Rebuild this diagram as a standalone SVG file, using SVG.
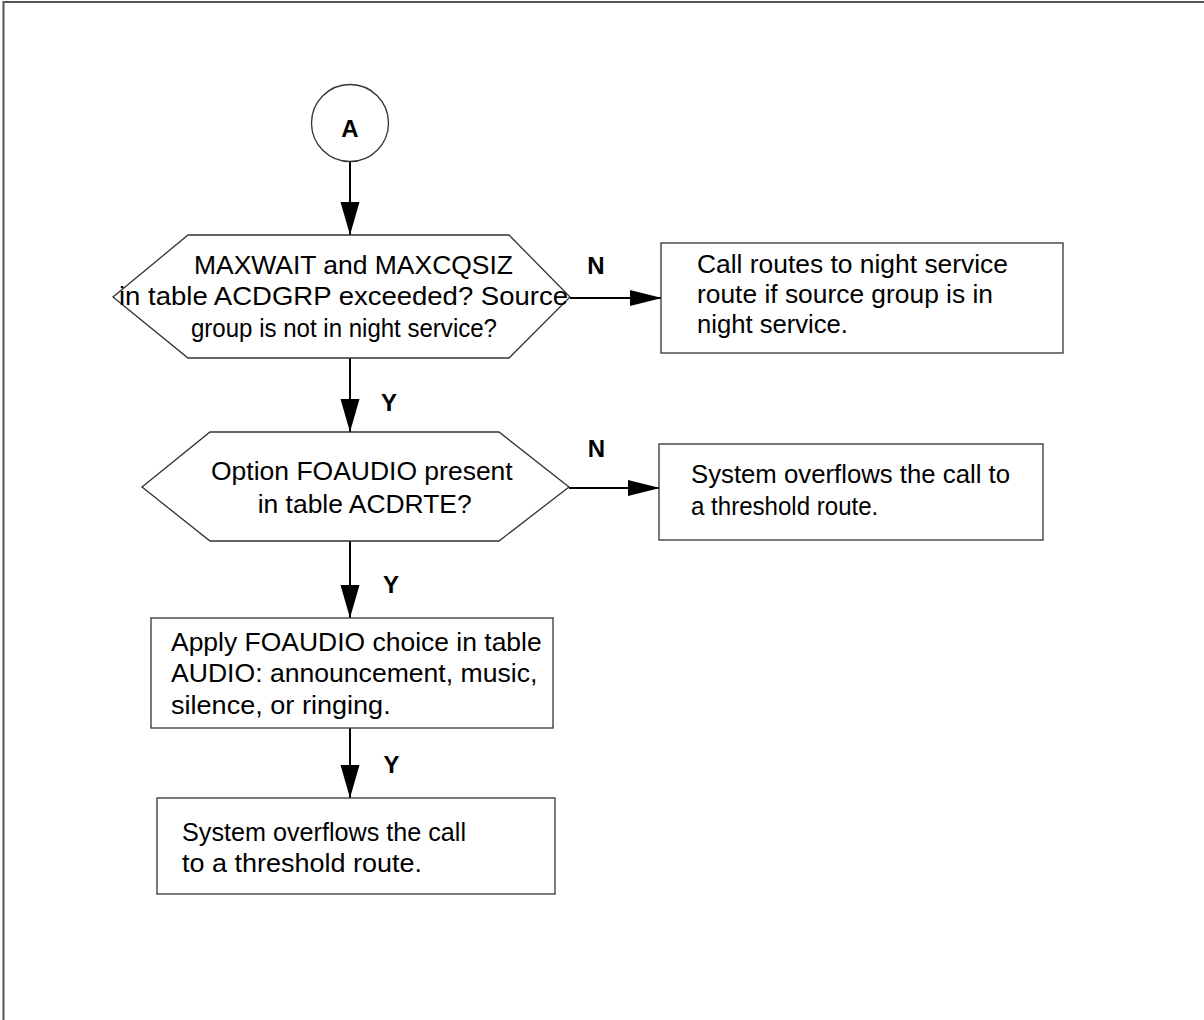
<svg xmlns="http://www.w3.org/2000/svg" width="1204" height="1020" viewBox="0 0 1204 1020">
<style>
  .shape { fill: #ffffff; stroke: #333333; stroke-width: 1.3; }
  .conn { stroke: #000000; stroke-width: 2; fill: none; }
  .txt { font-family: "Liberation Sans", Arial, sans-serif; font-size: 25px; fill: #000000; }
  .lbl { font-family: "Liberation Sans", Arial, sans-serif; font-size: 24px; font-weight: bold; fill: #000000; text-anchor: middle; }
  .frame { stroke: #555555; stroke-width: 2; fill: none; }
</style>
<defs>
  <marker id="arrV" markerUnits="userSpaceOnUse" markerWidth="33" markerHeight="20" refX="33" refY="9.5" orient="auto">
    <path d="M0,0 L33,9.5 L0,19 Z" fill="#000000"/>
  </marker>
  <marker id="arrH" markerUnits="userSpaceOnUse" markerWidth="32" markerHeight="18" refX="32" refY="8" orient="auto">
    <path d="M0,0 L32,8 L0,16 Z" fill="#000000"/>
  </marker>
</defs>
<rect x="0" y="0" width="1204" height="1020" fill="#ffffff"/>
<path class="frame" d="M3.5,1020 L3.5,2 L1204,2"/>

<g id="connectors">
  <line class="conn" x1="350" y1="162" x2="350" y2="235" marker-end="url(#arrV)"/>
  <line class="conn" x1="570" y1="298" x2="662" y2="298" marker-end="url(#arrH)"/>
  <line class="conn" x1="350" y1="358" x2="350" y2="432" marker-end="url(#arrV)"/>
  <line class="conn" x1="569" y1="488" x2="660" y2="488" marker-end="url(#arrH)"/>
  <line class="conn" x1="350" y1="541" x2="350" y2="618" marker-end="url(#arrV)"/>
  <line class="conn" x1="350" y1="728" x2="350" y2="798" marker-end="url(#arrV)"/>
  <text class="lbl" x="596" y="274">N</text>
  <text class="lbl" x="389" y="411">Y</text>
  <text class="lbl" x="596.5" y="457">N</text>
  <text class="lbl" x="391" y="593">Y</text>
  <text class="lbl" x="391.5" y="773">Y</text>
</g>

<g id="nodeA">
  <circle class="shape" cx="350" cy="123" r="38.5"/>
  <text class="lbl" x="350" y="137" font-size="27">A</text>
</g>

<g id="decision1">
  <polygon class="shape" points="188,235 509,235 570,297 509,358 188,358 113,297"/>
  <text class="txt" x="194" y="274" textLength="319" lengthAdjust="spacingAndGlyphs">MAXWAIT and MAXCQSIZ</text>
  <text class="txt" x="119" y="305" textLength="449" lengthAdjust="spacingAndGlyphs">in table ACDGRP exceeded? Source</text>
  <text class="txt" x="191" y="337" textLength="306" lengthAdjust="spacingAndGlyphs">group is not in night service?</text>
</g>

<g id="nightService">
  <rect class="shape" x="661" y="243" width="402" height="110"/>
  <text class="txt" x="697" y="273" textLength="311" lengthAdjust="spacingAndGlyphs">Call routes to night service</text>
  <text class="txt" x="697" y="303" textLength="296" lengthAdjust="spacingAndGlyphs">route if source group is in</text>
  <text class="txt" x="697" y="333" textLength="151" lengthAdjust="spacingAndGlyphs">night service.</text>
</g>

<g id="decision2">
  <polygon class="shape" points="210,432 499,432 569,487 499,541 210,541 142,487"/>
  <text class="txt" x="211" y="480" textLength="301.7" lengthAdjust="spacingAndGlyphs">Option FOAUDIO present</text>
  <text class="txt" x="257.7" y="512.7" textLength="214" lengthAdjust="spacingAndGlyphs">in table ACDRTE?</text>
</g>

<g id="overflow1">
  <rect class="shape" x="659" y="444" width="384" height="96"/>
  <text class="txt" x="691" y="483" textLength="319" lengthAdjust="spacingAndGlyphs">System overflows the call to</text>
  <text class="txt" x="691" y="515" textLength="187.3" lengthAdjust="spacingAndGlyphs">a threshold route.</text>
</g>

<g id="applyAudio">
  <rect class="shape" x="151" y="618" width="402" height="110"/>
  <text class="txt" x="171" y="651" textLength="370.7" lengthAdjust="spacingAndGlyphs">Apply FOAUDIO choice in table</text>
  <text class="txt" x="171" y="682" textLength="366.3" lengthAdjust="spacingAndGlyphs">AUDIO: announcement, music,</text>
  <text class="txt" x="171" y="714" textLength="219.7" lengthAdjust="spacingAndGlyphs">silence, or ringing.</text>
</g>

<g id="overflow2">
  <rect class="shape" x="157" y="798" width="398" height="96"/>
  <text class="txt" x="182" y="841" textLength="284" lengthAdjust="spacingAndGlyphs">System overflows the call</text>
  <text class="txt" x="182" y="872" textLength="240" lengthAdjust="spacingAndGlyphs">to a threshold route.</text>
</g>
</svg>
